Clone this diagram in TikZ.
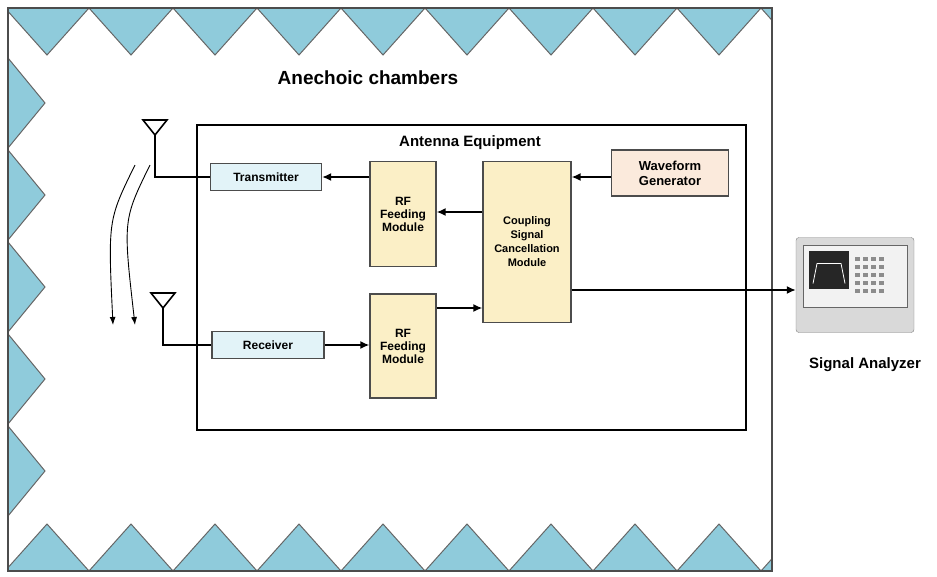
\documentclass[tikz,border=0pt]{standalone}
\usepackage{fontspec}
\setmainfont{Liberation Sans}
\usetikzlibrary{arrows.meta}
\definecolor{wedge}{HTML}{8FCBDB}
\definecolor{bluebox}{HTML}{E2F3F8}
\definecolor{yelbox}{HTML}{FBEFC6}
\definecolor{pinkbox}{HTML}{FBEADC}
\tikzset{
  blk/.style={draw=black!70, line width=1.3pt, font=\fontsize{12}{13}\selectfont\bfseries, align=center, inner sep=1pt},
  sig/.style={line width=1.6pt, -{Latex[length=9pt,width=8pt]}},
  wire/.style={line width=1.6pt},
  absorber/.style={fill=wedge, draw=black!60, line width=1pt}
}
\begin{document}
\begin{tikzpicture}[x=1pt,y=-1pt]
  \useasboundingbox (0,0) rectangle (937,576);
  %chamber
  \begin{scope}
    \clip (8,8) rectangle (772,571);
    \foreach \x in {5,89,...,761}
      \draw[absorber] (\x,8) -- (\x+84,8) -- (\x+42,55) -- cycle;
    \foreach \x in {5,89,...,761}
      \draw[absorber] (\x,571) -- (\x+84,571) -- (\x+42,524) -- cycle;
    \foreach \y in {58,150,...,440}
      \draw[absorber] (8,\y) -- (45,\y+45) -- (8,\y+90) -- cycle;
  \end{scope}
  \draw[line width=1.3pt, black!70] (8,8) rectangle (772,571);
  \node[font=\fontsize{19}{22}\selectfont\bfseries] (title) at (368,78) {Anechoic chambers};
  %antenna equipment
  \draw[line width=2.2pt] (197,125) rectangle (746,430);
  \node[font=\fontsize{15}{17}\selectfont\bfseries] (eqp) at (470,143) {Antenna Equipment};
  \node[blk, fill=bluebox, minimum width=111pt, minimum height=27pt] (tx) at (266,177) {Transmitter};
  \node[blk, fill=bluebox, minimum width=112pt, minimum height=27pt] (rx) at (268,345) {Receiver};
  \node[blk, fill=yelbox, minimum width=66pt, minimum height=105pt] (rf1) at (403,214) {RF\\Feeding\\Module};
  \node[blk, fill=yelbox, minimum width=66pt, minimum height=104pt] (rf2) at (403,346) {RF\\Feeding\\Module};
  \node[blk, fill=yelbox, minimum width=88pt, minimum height=161pt, font=\fontsize{11}{14}\selectfont\bfseries] (csc) at (527,242) {Coupling\\Signal\\Cancellation\\Module};
  \node[blk, fill=pinkbox, minimum width=117pt, minimum height=46pt, font=\fontsize{13}{15}\selectfont\bfseries] (wg) at (670,173) {Waveform\\Generator};
  %arrows
  \draw[sig] (wg.west |- 0,177) -- (csc.east |- 0,177);
  \draw[sig] (csc.west |- 0,212) -- (rf1.east |- 0,212);
  \draw[sig] (rf1.west |- tx.east) -- (tx.east);
  \draw[sig] (rx.east) -- (rf2.west |- rx.east);
  \draw[sig] (rf2.east |- 0,308) -- (csc.west |- 0,308);
  %antennas
  \coordinate (ant1) at (155,135);
  \coordinate (ant2) at (163,308);
  \draw[wire] (143,120) -- (167,120) -- (ant1) -- cycle;
  \draw[wire] (151,293) -- (175,293) -- (ant2) -- cycle;
  \draw[wire] (ant1) |- (tx.west);
  \draw[wire] (ant2) |- (rx.west);
  \coordinate (w1a) at (135,165);
  \coordinate (w1b) at (113,325);
  \coordinate (w2a) at (150,165);
  \coordinate (w2b) at (135,325);
  \draw[line width=0.9pt, -{Latex[length=8pt]}] (w1a) .. controls (108,220) .. (w1b);
  \draw[line width=0.9pt, -{Latex[length=8pt]}] (w2a) .. controls (123,220) .. (w2b);
  %signal analyzer
  \node[draw=black!50, fill=black!15, rounded corners=3pt, minimum width=118pt, minimum height=95pt] (sa) at (855,285) {};
  \node[draw=black!60, fill=black!5, minimum width=104pt, minimum height=62pt, anchor=north] (panel) at ([yshift=-8pt]sa.north) {};
  \node[fill=black!85, minimum width=40pt, minimum height=38pt, anchor=north west] (scr) at ([xshift=6pt,yshift=-5pt]panel.north west) {};
  \draw[white, thick] ([xshift=-16pt,yshift=-14pt]scr.center) -- ++(4,-20) -- ++(24,0) -- ++(4,20);
  \foreach \i in {0,...,3}
    \foreach \j in {0,...,4}
      \fill[black!45] ([xshift=\i*8+6pt,yshift=-\j*8-7pt]scr.north east) rectangle ++(5,4);
  \draw[sig] (csc.east |- 0,290) -- (sa.west |- 0,290);
  \node[font=\fontsize{15}{17}\selectfont\bfseries] (salbl) at (865,365) {Signal Analyzer};
\end{tikzpicture}
\end{document}
